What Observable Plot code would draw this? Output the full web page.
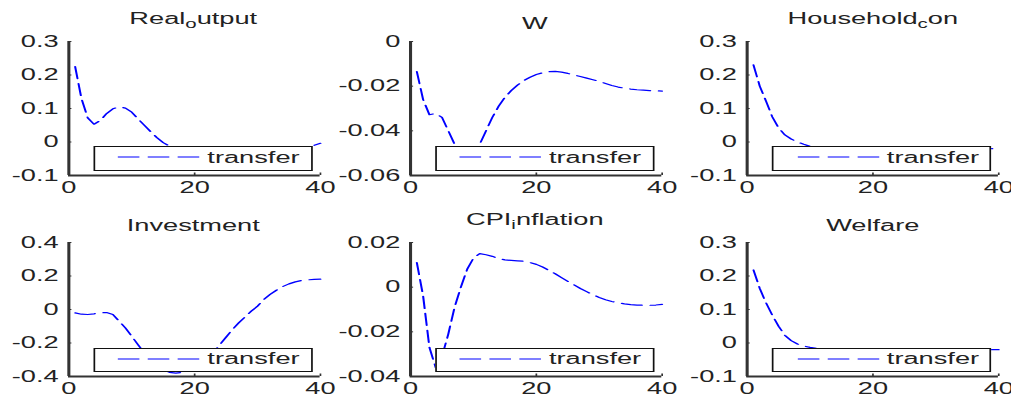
<!DOCTYPE html>
<html><head><meta charset="utf-8">
<script src="https://cdn.jsdelivr.net/npm/d3@7"></script>
<script src="https://cdn.jsdelivr.net/npm/@observablehq/plot@0.6"></script>
<style>
html,body{margin:0;padding:0;background:#fff;overflow:hidden;width:1011px;height:396px;}
#fig{position:absolute;left:0;top:0;width:594.7px;height:396px;transform:scaleX(1.7);transform-origin:0 0;font-family:"Liberation Sans",Arial,sans-serif;color:#222;}
.panel{position:absolute;}
.title{position:absolute;font-size:16px;line-height:16px;text-align:center;white-space:nowrap;color:#222;}
.title .sub{font-size:12px;position:relative;top:4px;}
.legend{position:absolute;box-sizing:border-box;border:1.3px solid #111;background:#fff;}
.legend svg{position:absolute;overflow:visible;}
.legend span{position:absolute;font-size:16px;line-height:16px;white-space:nowrap;color:#222;}
</style></head>
<body><div id="fig"></div>
<script>
// ---- data ----
const time = [1,2,3,4,5,6,7,8,9,10,11,12,13,14,15,16,17,18,19,20,21,22,23,24,25,26,27,28,29,30,31,32,33,34,35,36,37,38,39,40];
const xTicks = [0,20,40];
const seriesName = "transfer";

const realOutput = [0.225,0.13,0.072,0.053,0.064,0.085,0.099,0.105,0.101,0.089,0.069,0.05,0.031,0.013,-0.002,-0.012,-0.021,-0.028,-0.033,-0.036,-0.038,-0.039,-0.039,-0.038,-0.037,-0.035,-0.033,-0.031,-0.029,-0.027,-0.025,-0.023,-0.021,-0.019,-0.018,-0.016,-0.015,-0.013,-0.01,-0.004];
const wage = [-0.0135,-0.026,-0.0328,-0.0322,-0.034,-0.04,-0.046,-0.051,-0.053,-0.052,-0.046,-0.04,-0.034,-0.029,-0.025,-0.022,-0.0195,-0.0175,-0.016,-0.0148,-0.014,-0.0135,-0.0134,-0.0137,-0.0143,-0.015,-0.0157,-0.0164,-0.0171,-0.0179,-0.0188,-0.0197,-0.0204,-0.0209,-0.0213,-0.0216,-0.0218,-0.022,-0.0221,-0.0222];
const householdCon = [0.23,0.167,0.122,0.075,0.042,0.021,0.009,0.0,-0.007,-0.013,-0.016,-0.017,-0.018,-0.019,-0.0195,-0.0198,-0.02,-0.02,-0.0201,-0.0201,-0.0202,-0.0202,-0.0202,-0.0202,-0.0202,-0.0202,-0.0202,-0.0202,-0.0202,-0.0201,-0.0201,-0.0201,-0.0201,-0.0201,-0.02,-0.02,-0.02,-0.02,-0.02,-0.02];
const investment = [-0.02,-0.028,-0.03,-0.026,-0.02,-0.018,-0.03,-0.07,-0.11,-0.16,-0.21,-0.26,-0.3,-0.335,-0.36,-0.375,-0.38,-0.376,-0.365,-0.345,-0.32,-0.29,-0.255,-0.21,-0.165,-0.12,-0.08,-0.045,-0.01,0.02,0.06,0.09,0.115,0.137,0.153,0.165,0.173,0.177,0.18,0.181];
const cpiInflation = [0.011,-0.004,-0.027,-0.036,-0.031,-0.021,-0.009,0.0,0.008,0.013,0.015,0.0145,0.0138,0.0128,0.0122,0.012,0.0118,0.0116,0.011,0.0102,0.009,0.0075,0.006,0.0043,0.0026,0.001,-0.0006,-0.002,-0.0034,-0.0046,-0.0056,-0.0064,-0.007,-0.0075,-0.0078,-0.008,-0.0081,-0.0081,-0.008,-0.0077];
const welfare = [0.218,0.163,0.12,0.083,0.05,0.023,0.007,-0.003,-0.009,-0.013,-0.016,-0.018,-0.019,-0.0195,-0.02,-0.02,-0.0202,-0.0202,-0.0203,-0.0203,-0.0203,-0.0203,-0.0203,-0.0203,-0.0203,-0.0203,-0.0203,-0.0202,-0.0202,-0.0202,-0.0202,-0.0202,-0.0201,-0.0201,-0.0201,-0.0201,-0.02,-0.02,-0.02,-0.02];

// titles: [main, subscript, rest]
const titleParts = [["Real","o","utput"],["W","",""],["Household","c","on"],["Investment","",""],["CPI","i","nflation"],["Welfare","",""]];
const seriesList = [realOutput, wage, householdCon, investment, cpiInflation, welfare];
const yDomains = [[-0.1,0.3],[-0.06,0],[-0.1,0.3],[-0.4,0.4],[-0.04,0.02],[-0.1,0.3]];
const yTickSets = [[-0.1,0,0.1,0.2,0.3],[-0.06,-0.04,-0.02,0],[-0.1,0,0.1,0.2,0.3],[-0.4,-0.2,0,0.2,0.4],[-0.04,-0.02,0,0.02],[-0.1,0,0.1,0.2,0.3]];

// ---- layout (unstretched units; figure is stretched 1.7x horizontally) ----
const colLeft = [39.7, 240.6, 439.4];
const rowTop = [40.5, 242];
const PW = 148, PH = 134;
const mL = 46, mR = 16, mT = 6, mB = 26;
const fig = document.getElementById("fig");
const axisColor = "#333";

seriesList.forEach((vals, i) => {
  const col = i % 3, row = Math.floor(i / 3);
  const data = time.map((t, k) => ({t, v: vals[k]}));
  const yd = yDomains[i], yt = yTickSets[i];
  const chart = Plot.plot({
    width: mL + PW + mR, height: mT + PH + mB,
    marginLeft: mL, marginRight: mR, marginTop: mT, marginBottom: mB,
    style: {fontFamily: '"Liberation Sans", Arial, sans-serif', fontSize: "16px", color: "#222", background: "transparent", overflow: "visible"},
    x: {domain: [0, 40], ticks: xTicks, tickFormat: d => String(d), tickSize: 0, tickPadding: 6, label: null},
    y: {domain: yd, ticks: yt, tickFormat: d => String(d), tickSize: 0, tickPadding: 6, label: null},
    marks: [
      Plot.line(data, {x: "t", y: "v", stroke: "#0000ff", strokeWidth: 1.2, strokeDasharray: "12,5"}),
      Plot.ruleX([0], {x: d => d, stroke: axisColor, strokeWidth: 1.8}),
      Plot.ruleY([yd[0]], {y: d => d, stroke: axisColor, strokeWidth: 2}),
      Plot.tickX(xTicks, {x: d => d, stroke: axisColor, insetTop: PH - 2.5}),
      Plot.tickY(yt, {y: d => d, stroke: axisColor, insetRight: PW - 2})
    ]
  });
  chart.classList.add("panel");
  chart.style.left = (colLeft[col] - mL) + "px";
  chart.style.top = (rowTop[row] - mT) + "px";
  fig.appendChild(chart);

  // title
  const tp = titleParts[i];
  const title = document.createElement("div");
  title.className = "title";
  const hasSub = tp[1] !== "";
  const baseline = rowTop[row] - (hasSub ? 16.5 : 11);
  title.style.left = colLeft[col] + "px";
  title.style.width = PW + "px";
  title.style.top = (baseline - 13.5) + "px";
  title.appendChild(document.createTextNode(tp[0]));
  if (hasSub) {
    const s = document.createElement("span");
    s.className = "sub";
    s.textContent = tp[1];
    title.appendChild(s);
    title.appendChild(document.createTextNode(tp[2]));
  }
  fig.appendChild(title);

  // legend
  const lg = document.createElement("div");
  lg.className = "legend";
  lg.style.left = (colLeft[col] + 15) + "px";
  lg.style.top = (rowTop[row] + 105.5) + "px";
  lg.style.width = "129px";
  lg.style.height = "24.5px";
  const ns = "http://www.w3.org/2000/svg";
  const sw = document.createElementNS(ns, "svg");
  sw.setAttribute("width", "49"); sw.setAttribute("height", "4");
  sw.style.left = "13.4px"; sw.style.top = "8.2px";
  const ln = document.createElementNS(ns, "line");
  ln.setAttribute("x1", "0.3"); ln.setAttribute("x2", "48.6");
  ln.setAttribute("y1", "2"); ln.setAttribute("y2", "2");
  ln.setAttribute("stroke", "#0000ff"); ln.setAttribute("stroke-width", "1.2");
  ln.setAttribute("stroke-dasharray", "12.7,4.9");
  sw.appendChild(ln);
  lg.appendChild(sw);
  const lab = document.createElement("span");
  lab.textContent = seriesName;
  lab.style.left = "66.3px"; lab.style.top = "2.5px";
  lg.appendChild(lab);
  fig.appendChild(lg);
});
</script>
</body></html>
